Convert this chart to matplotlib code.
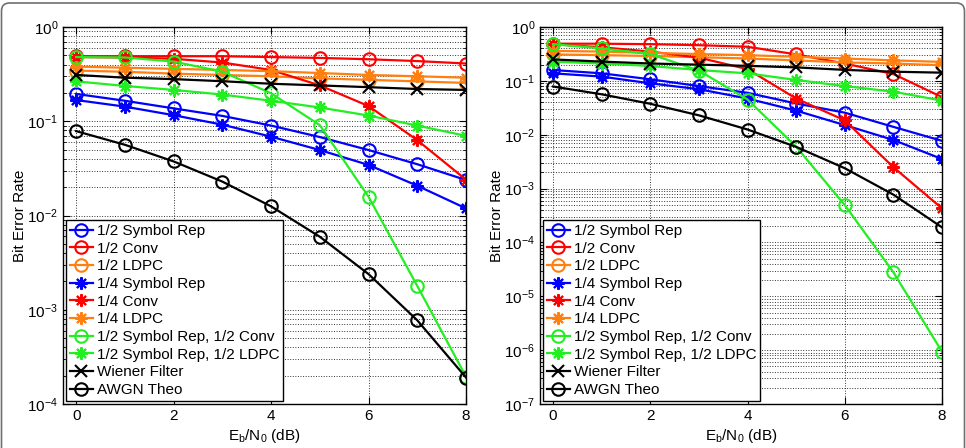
import numpy as np
import matplotlib
matplotlib.use('Agg')
import matplotlib.pyplot as plt
from matplotlib.patches import FancyBboxPatch
from matplotlib.ticker import LogLocator, NullFormatter

plt.rcParams['font.family'] = ['Liberation Sans', 'DejaVu Sans']
plt.rcParams['mathtext.fontset'] = 'custom'
plt.rcParams['mathtext.rm'] = 'Liberation Sans'
plt.rcParams['mathtext.it'] = 'Liberation Sans:italic'

# Eb/N0 in dB
ebn0 = [0, 1, 2, 3, 4, 5, 6, 7, 8]

labels = ['1/2 Symbol Rep', '1/2 Conv', '1/2 LDPC', '1/4 Symbol Rep', '1/4 Conv',
          '1/4 LDPC', '1/2 Symbol Rep, 1/2 Conv', '1/2 Symbol Rep, 1/2 LDPC',
          'Wiener Filter', 'AWGN Theo']

# left panel
left_sym_half = [0.195, 0.165, 0.137, 0.114, 0.09, 0.068, 0.0495, 0.035, 0.0238]
left_conv_half = [0.49, 0.49, 0.49, 0.49, 0.48, 0.47, 0.455, 0.435, 0.41]
left_ldpc_half = [0.345, 0.335, 0.32, 0.31, 0.30, 0.285, 0.275, 0.265, 0.255]
left_sym_quart = [0.168, 0.143, 0.116, 0.092, 0.0686, 0.0495, 0.0344, 0.0207, 0.0119]
left_conv_quart = [0.48, 0.475, 0.46, 0.42, 0.35, 0.24, 0.145, 0.063, 0.024]
left_ldpc_quart = [0.38, 0.37, 0.36, 0.35, 0.34, 0.325, 0.31, 0.30, 0.29]
left_sym_conv = [0.48, 0.475, 0.43, 0.336, 0.198, 0.091, 0.0158, 0.00179, 0.000195]
left_sym_ldpc = [0.265, 0.237, 0.215, 0.192, 0.165, 0.14, 0.115, 0.09, 0.07]
left_wiener = [0.31, 0.29, 0.28, 0.266, 0.25, 0.24, 0.23, 0.22, 0.215]
left_awgn = [0.0786, 0.0563, 0.0375, 0.0229, 0.0125, 0.00595, 0.00239, 0.000773, 0.000191]

# right panel
right_sym_half = [0.159, 0.138, 0.107, 0.08, 0.06, 0.038, 0.0257, 0.014, 0.0077]
right_conv_half = [0.49, 0.49, 0.48, 0.46, 0.43, 0.31, 0.21, 0.134, 0.05]
right_ldpc_half = [0.31, 0.30, 0.29, 0.275, 0.26, 0.24, 0.22, 0.21, 0.195]
right_sym_quart = [0.138, 0.12, 0.09, 0.07, 0.047, 0.028, 0.0151, 0.008, 0.00354]
right_conv_quart = [0.48, 0.42, 0.35, 0.27, 0.165, 0.047, 0.0185, 0.0025, 0.00043]
right_ldpc_quart = [0.36, 0.35, 0.33, 0.315, 0.30, 0.28, 0.26, 0.24, 0.225]
right_sym_conv = [0.48, 0.40, 0.315, 0.155, 0.045, 0.006, 0.000495, 2.8e-5, 9.4e-7]
right_sym_ldpc = [0.227, 0.21, 0.189, 0.159, 0.138, 0.104, 0.08, 0.063, 0.043]
right_wiener = [0.25, 0.228, 0.21, 0.2, 0.19, 0.178, 0.16, 0.148, 0.142]
right_awgn = [0.0786, 0.0563, 0.0375, 0.0229, 0.0125, 0.00595, 0.00239, 0.000773, 0.000191]

blue = '#0000ff'
red = '#ff0000'
orange = '#ff7f10'
green = '#22ee22'
star = (8, 2, 0)
styles = [(blue, 'o'), (red, 'o'), (orange, 'o'), (blue, star), (red, star),
          (orange, star), (green, 'o'), (green, star), ('black', 'x'), ('black', 'o')]

left_data = [left_sym_half, left_conv_half, left_ldpc_half, left_sym_quart, left_conv_quart,
             left_ldpc_quart, left_sym_conv, left_sym_ldpc, left_wiener, left_awgn]
right_data = [right_sym_half, right_conv_half, right_ldpc_half, right_sym_quart, right_conv_quart,
              right_ldpc_quart, right_sym_conv, right_sym_ldpc, right_wiener, right_awgn]

fig = plt.figure(figsize=(9.66, 4.48), dpi=100)

# rounded frame around the figure
frame = FancyBboxPatch((0.015, -0.2), 9.63, 4.65, boxstyle='round,pad=0,rounding_size=0.08',
                       transform=fig.dpi_scale_trans, facecolor='none',
                       edgecolor='#707070', linewidth=1.2)
fig.patches.append(frame)

ax1 = fig.add_axes([0.0652, 0.0982, 0.4172, 0.8415])
ax2 = fig.add_axes([0.559, 0.0982, 0.4161, 0.8415])

for ax, data, ylo in [(ax1, left_data, 1e-4), (ax2, right_data, 1e-7)]:
    for vals, lab, (c, m) in zip(data, labels, styles):
        ax.semilogy(ebn0, vals, color=c, marker=m, markersize=9, markerfacecolor='none',
                    markeredgewidth=1.5, linewidth=1.6, label=lab)
    ax.set_xlim(-0.27, 8)
    ax.set_ylim(ylo, 1)
    ax.set_xticks([0, 2, 4, 6, 8])
    ax.yaxis.set_major_locator(LogLocator(base=10, numticks=20))
    ax.yaxis.set_minor_locator(LogLocator(base=10, subs=np.arange(2, 10), numticks=20))
    ax.yaxis.set_minor_formatter(NullFormatter())
    ax.grid(True, which='major', linestyle=':', color='black', linewidth=0.7, alpha=0.8)
    ax.grid(True, which='minor', axis='y', linestyle=':', color='black', linewidth=0.7, alpha=0.8)
    ax.tick_params(direction='in', which='both', top=True, right=True, labelsize=11)
    ax.tick_params(which='major', length=5)
    ax.tick_params(which='minor', length=2.5)
    for s in ax.spines.values():
        s.set_linewidth(1.0)
    ax.set_xlabel(r'E$_\mathrm{b}$/N$_\mathrm{0}$ (dB)', fontsize=11, labelpad=3)
    ax.set_ylabel('Bit Error Rate', fontsize=11, labelpad=0)
    leg = ax.legend(loc='lower left', fontsize=11, labelspacing=0.24, handlelength=1.5,
                    handletextpad=0.25, borderpad=0.25, borderaxespad=0.2, fancybox=False,
                    framealpha=1, edgecolor='black')
    leg.get_frame().set_linewidth(1.0)

fig.savefig('out.png', dpi=100)
